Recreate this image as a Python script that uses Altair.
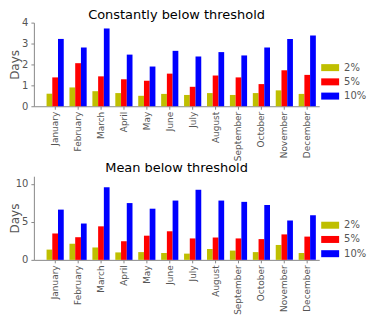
import altair as alt
import pandas as pd

months = ["January", "February", "March", "April", "May", "June", "July",
          "August", "September", "October", "November", "December"]
thresholds = ["2%", "5%", "10%"]
colors = ["#bfbf00", "#ff0000", "#0000ff"]

const_2 = [0.60, 0.90, 0.72, 0.63, 0.50, 0.59, 0.54, 0.63, 0.54, 0.63, 0.76, 0.59]
const_5 = [1.38, 2.06, 1.43, 1.29, 1.22, 1.56, 0.93, 1.47, 1.38, 1.06, 1.72, 1.50]
const_10 = [3.22, 2.81, 3.72, 2.47, 1.90, 2.65, 2.38, 2.59, 2.43, 2.81, 3.22, 3.38]

mean_2 = [1.35, 2.12, 1.63, 0.98, 1.02, 0.90, 0.82, 1.43, 1.22, 1.02, 1.96, 0.90]
mean_5 = [3.47, 2.98, 4.41, 2.45, 3.18, 3.76, 2.82, 2.94, 2.82, 2.73, 3.35, 3.06]
mean_10 = [6.61, 4.78, 9.55, 7.47, 6.73, 7.80, 9.22, 7.80, 7.63, 7.22, 5.18, 5.88]


def make_df(s2, s5, s10):
    rows = []
    for i, m in enumerate(months):
        for t, s in zip(thresholds, [s2, s5, s10]):
            rows.append({"month": m, "threshold": t, "value": s[i]})
    return pd.DataFrame(rows)


GRAY = "#555555"
LINE = "#888888"


def panel(df, title, ymax, yvals, width, title_offset, title_pad, leg_x, leg_y):
    return alt.Chart(df).mark_bar().encode(
        x=alt.X("month:N", sort=months,
                scale=alt.Scale(paddingInner=0.25, paddingOuter=0.35, align=0.79),
                axis=alt.Axis(title=None, labelAngle=-90, labelFontSize=9,
                              labelColor=GRAY, tickSize=3, tickColor=LINE,
                              domainColor=LINE, labelPadding=2)),
        xOffset=alt.XOffset("threshold:N", sort=thresholds,
                            scale=alt.Scale(paddingInner=0, paddingOuter=0)),
        y=alt.Y("value:Q", scale=alt.Scale(domain=[0, ymax], nice=False),
                axis=alt.Axis(values=yvals, grid=False, tickSize=3, tickColor=LINE,
                              domainColor=LINE, labelFontSize=10, labelColor=GRAY,
                              labelPadding=3, title="Days", titleFontSize=12,
                              titleFontWeight="normal", titleColor=GRAY,
                              titlePadding=title_pad)),
        color=alt.Color("threshold:N", sort=thresholds,
                        scale=alt.Scale(domain=thresholds, range=colors),
                        legend=alt.Legend(orient="none", legendX=leg_x, legendY=leg_y,
                                          title=None,
                                          symbolType="M-1,-0.39H1V0.39H-1Z",
                                          symbolSize=324, symbolStrokeWidth=0,
                                          labelFontSize=10, labelColor=GRAY,
                                          labelOffset=5, rowPadding=0.3, padding=0)),
    ).properties(
        width=width, height=84,
        title=alt.TitleParams(title, fontSize=13, fontWeight="normal", color="black",
                              offset=title_offset, anchor="middle", frame="group"),
    )


top = panel(make_df(const_2, const_5, const_10), "Constantly below threshold",
            4, [0, 1, 2, 3, 4], 286.6, -4, 0, 288.6, 36.2)
bottom = panel(make_df(mean_2, mean_5, mean_10), "Mean below threshold",
               11, [0, 5, 10], 286.6, 1, -6.3, 288.6, 40.2)

chart = alt.vconcat(top, bottom, spacing=1.3).resolve_scale(
    color="independent"
).resolve_legend(color="independent").properties(
    padding={"left": 0, "top": 0, "right": 0, "bottom": 0}
).configure(font="DejaVu Sans").configure_view(stroke=None)

chart.save("out.html", embed_options={"renderer": "svg", "actions": False})
